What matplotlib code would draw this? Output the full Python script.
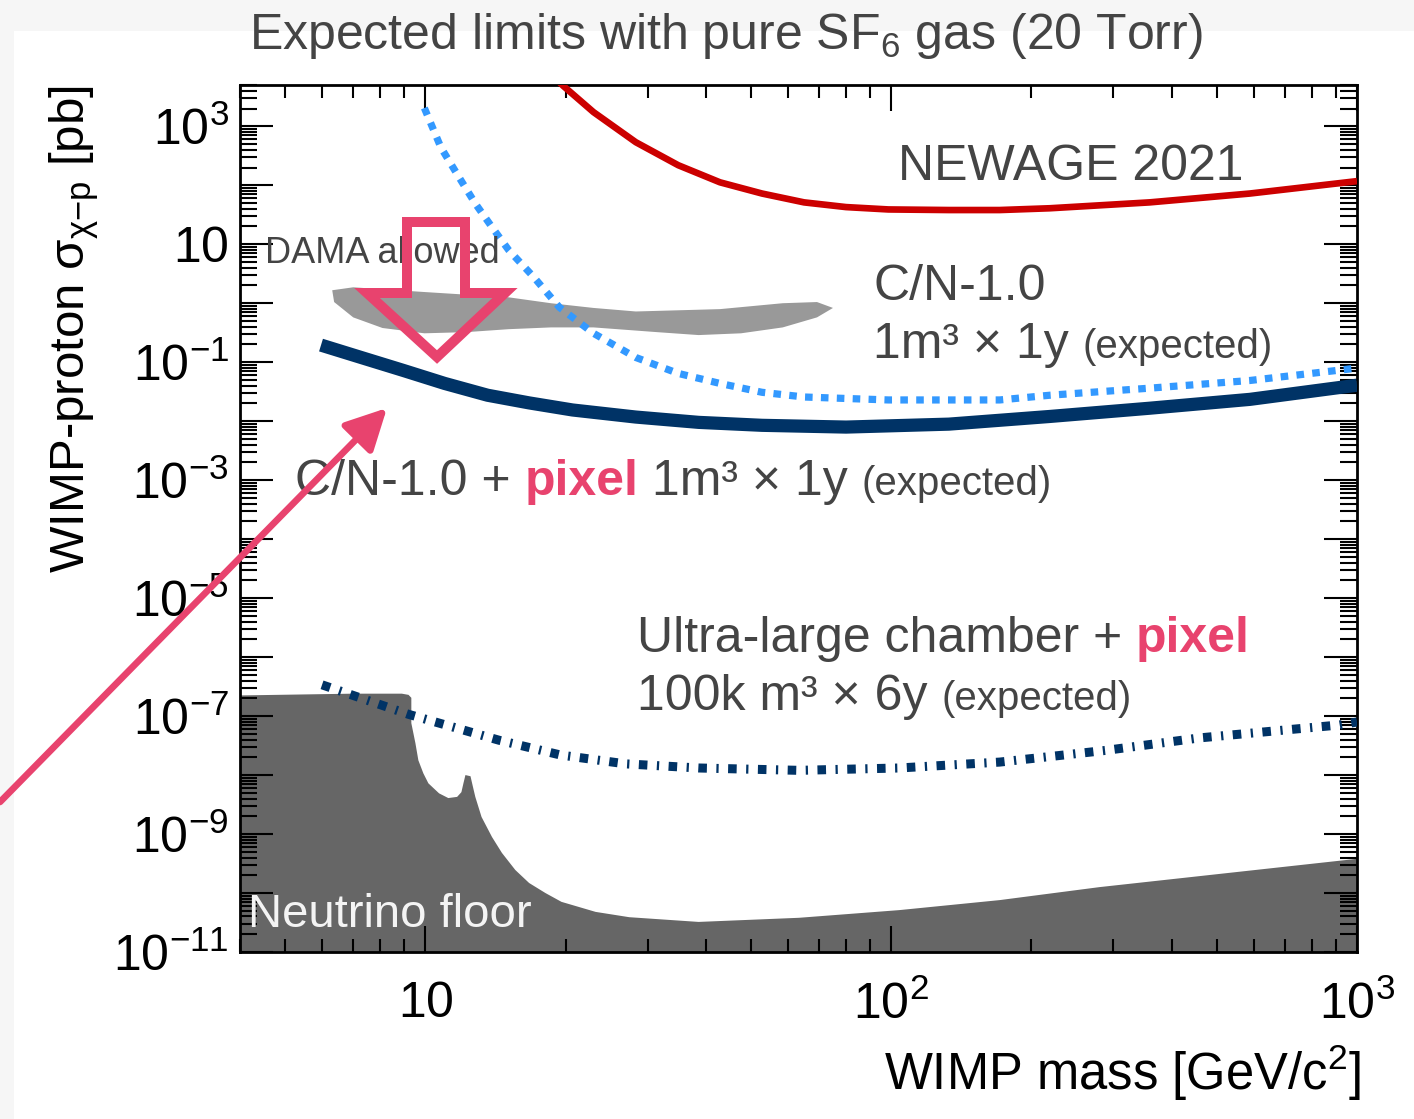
import numpy as np
import matplotlib
matplotlib.use('Agg')
import matplotlib.pyplot as plt
import matplotlib.transforms as mtrans
from matplotlib.patches import Polygon, FancyArrowPatch, Rectangle
from matplotlib.ticker import FixedLocator, FixedFormatter, LogLocator, NullFormatter

plt.rcParams['font.family'] = ['Liberation Sans', 'DejaVu Sans']
plt.rcParams['mathtext.fontset'] = 'custom'
plt.rcParams['mathtext.rm'] = 'Liberation Sans'
plt.rcParams['mathtext.it'] = 'Liberation Sans:italic'
plt.rcParams['mathtext.default'] = 'regular'

# ---- data (mass in GeV/c^2, log10 of cross section in pb)
newage_m = [18.9, 19.8, 22.96, 28.3, 34.9, 42.9, 52.8, 65.0, 80.0, 98.6, 133, 171, 219, 359, 589, 1000]
newage_logs = [3.83, 3.68, 3.24, 2.73, 2.34, 2.05, 1.86, 1.71, 1.63, 1.59, 1.58, 1.58, 1.61, 1.71, 1.86, 2.07]

cn_m = [9.95, 10.8, 11.8, 12.8, 13.9, 15.1, 17.1, 19.4, 22.96, 28.3, 34.9, 42.9, 52.8, 65.0,
        98.6, 140, 171, 219, 359, 589, 1000]
cn_logs = [3.31, 2.64, 2.14, 1.69, 1.29, 0.90, 0.44, -0.07, -0.51, -0.92, -1.19, -1.36, -1.51, -1.59,
           -1.64, -1.64, -1.64, -1.56, -1.44, -1.31, -1.10]

pix_m = [5.97, 7.28, 8.97, 11.0, 13.6, 16.7, 20.7, 28.3, 38.6, 52.8, 80.0, 133, 219, 359, 589, 1000]
pix_logs = [-0.71, -0.92, -1.14, -1.36, -1.56, -1.69, -1.81, -1.93, -2.02, -2.07, -2.10, -2.05, -1.92,
            -1.78, -1.63, -1.39]

ulc_m = [6.0, 9.2, 14.4, 19.5, 26.9, 38.6, 63.4, 104, 171, 290, 459, 918, 1000]
ulc_logs = [-6.47, -6.97, -7.41, -7.66, -7.81, -7.88, -7.92, -7.88, -7.78, -7.58, -7.37, -7.15, -7.10]

nu_m = [4, 7.0, 8.9, 9.2, 9.33, 9.33, 9.52, 9.66, 9.9, 10.15, 10.7, 11.2, 11.7, 11.95, 12.07, 12.19,
        12.5, 12.6, 12.8, 13.2, 13.9, 14.6, 15.6, 16.7, 18.1, 19.6, 23.2, 27.4, 38.6, 63.4, 104, 171,
        280, 1000]
nu_logs = [-6.65, -6.62, -6.62, -6.64, -6.69, -7.12, -7.46, -7.75, -7.97, -8.14, -8.31, -8.39, -8.37,
           -8.29, -8.14, -8.00, -8.02, -8.14, -8.37, -8.71, -9.05, -9.32, -9.61, -9.83, -10.00, -10.15,
           -10.32, -10.41, -10.49, -10.42, -10.29, -10.12, -9.90, -9.42]

dama_m = [6.31, 7.0, 9.95, 15.1, 18.6, 22.96, 28.3, 42.9, 58.5, 69.3, 75.0, 69.3, 58.5, 47.6,
          38.6, 31.4, 22.96, 18.6, 15.1, 12.25, 9.95, 8.09, 7.0, 6.37]
dama_logs = [0.22, 0.27, 0.19, 0.10, 0.0, -0.08, -0.14, -0.10, 0.0, 0.02, -0.08, -0.24, -0.41, -0.51,
             -0.54, -0.49, -0.41, -0.41, -0.44, -0.49, -0.51, -0.42, -0.24, 0.02]

x_ticks = [10, 100, 1000]
x_labels = ['$10$', '$10^{2}$', '$10^{3}$']
y_exps = list(range(-11, 4))

pink = '#e8436e'
grey = '#444444'
navy = '#003366'

W, H = 1414, 1119
fig = plt.figure(figsize=(W / 100, H / 100), dpi=100, facecolor='#f6f6f6')
pxT = mtrans.Affine2D().scale(1, -1).translate(0, H)
fig.add_artist(Rectangle((14, 31), W, H, transform=pxT, facecolor='white', edgecolor='none', zorder=-5))

ax = fig.add_axes([240 / W, 1 - 952 / H, 1117 / W, 867 / H])
ax.set_xscale('log')
ax.set_yscale('log')
ax.set_xlim(4, 1000)
ax.set_ylim(1e-11, 10 ** 3.7)

ax.fill(nu_m + [1000, 4], list(10 ** np.array(nu_logs)) + [1e-12, 1e-12], color='#666666', lw=0, zorder=1)
ax.fill(dama_m, 10 ** np.array(dama_logs), color='#999999', lw=0, zorder=1)
ax.plot(newage_m, 10 ** np.array(newage_logs), color='#cc0000', lw=4.8, solid_capstyle='butt',
        solid_joinstyle='round', zorder=3)
ax.plot(cn_m, 10 ** np.array(cn_logs), color='#3399ff', lw=5.2, ls=(0, (1.05, 1.15)),
        dash_capstyle='butt', zorder=3)
ax.plot(pix_m, 10 ** np.array(pix_logs), color=navy, lw=9.5, solid_capstyle='butt',
        solid_joinstyle='round', zorder=3)
ax.plot(ulc_m, 10 ** np.array(ulc_logs), color=navy, lw=6.5, ls=(0, (0.95, 1.05, 0.25, 1.05)),
        dash_capstyle='butt', zorder=3)

# ROOT-like axes
for s in ax.spines.values():
    s.set_linewidth(2)
ax.xaxis.set_major_locator(FixedLocator(x_ticks))
ax.xaxis.set_major_formatter(FixedFormatter(x_labels))
ax.xaxis.set_minor_locator(LogLocator(subs=np.arange(2, 10)))
ax.xaxis.set_minor_formatter(NullFormatter())
ax.yaxis.set_major_locator(FixedLocator([10.0 ** k for k in y_exps]))
ax.yaxis.set_major_formatter(FixedFormatter(
    [('$10$' if k == 1 else '$10^{%d}$' % k) if k % 2 else '' for k in y_exps]))
ax.yaxis.set_minor_locator(LogLocator(subs=np.arange(2, 10), numticks=40))
ax.yaxis.set_minor_formatter(NullFormatter())
ax.tick_params(which='both', direction='in', top=True, right=True, width=1.5, labelsize=36)
ax.tick_params(axis='x', which='major', length=19, pad=21)
ax.tick_params(axis='x', which='minor', length=9.5)
ax.tick_params(axis='y', which='major', length=24, pad=8)
ax.tick_params(axis='y', which='minor', length=12)

ax.set_xlabel('WIMP mass [GeV/c$^{2}$]', fontsize=36.5, loc='right')
ax.xaxis.set_label_coords(1.003, -0.104)
ax.set_ylabel(r'WIMP-proton $\sigma_{\chi{-p}}$ [pb]', fontsize=35.5, loc='top')
ax.yaxis.set_label_coords(-0.124, 1.0)

fig.text(726, 49, 'Expected limits with pure SF$_{6}$ gas (20 Torr)', transform=pxT,
         ha='center', va='baseline', fontsize=36, color=grey)


def put(x, y, parts):
    r = fig.canvas.get_renderer()
    for s, kw in parts:
        sp = 0.278 * kw['fontsize'] * 100 / 72
        x += (len(s) - len(s.lstrip(' '))) * sp
        t = fig.text(x, y, s.strip(' '), transform=pxT, ha='left', va='baseline', **kw)
        x += t.get_window_extent(r).width + (len(s) - len(s.rstrip(' '))) * sp


main = dict(fontsize=36, color=grey)
small = dict(fontsize=29, color=grey)
bold = dict(fontsize=36, color=pink, fontweight='bold')

put(898, 180, [('NEWAGE 2021', main)])
put(873, 300, [('C/N-1.0', main)])
put(873, 358, [('1m³ × 1y ', main), ('(expected)', small)])
put(265, 263, [('DAMA allowed', dict(fontsize=26, color=grey))])
put(295, 495, [('C/N-1.0 + ', main), ('pixel', bold), (' 1m³ × 1y ', main), ('(expected)', small)])
put(637, 652, [('Ultra-large chamber + ', main), ('pixel', bold)])
put(637, 710, [('100k m³ × 6y ', main), ('(expected)', small)])
put(248, 927, [('Neutrino floor', dict(fontsize=34, color='#f4f4f4'))])

# annotation arrows
fig.add_artist(Polygon([(407, 222), (465, 222), (465, 293), (505, 293), (437, 357), (367, 293), (407, 293)],
                       closed=True, fill=False, edgecolor=pink, lw=7.2, joinstyle='miter',
                       transform=pxT, zorder=10))
fig.add_artist(FancyArrowPatch((0, 802), (387, 408), transform=pxT,
                               arrowstyle='-|>,head_length=1.25,head_width=0.64', mutation_scale=20,
                               lw=4.8, color=pink, shrinkA=0, shrinkB=0, zorder=10))

fig.savefig('out.png', dpi=100, facecolor=fig.get_facecolor())
